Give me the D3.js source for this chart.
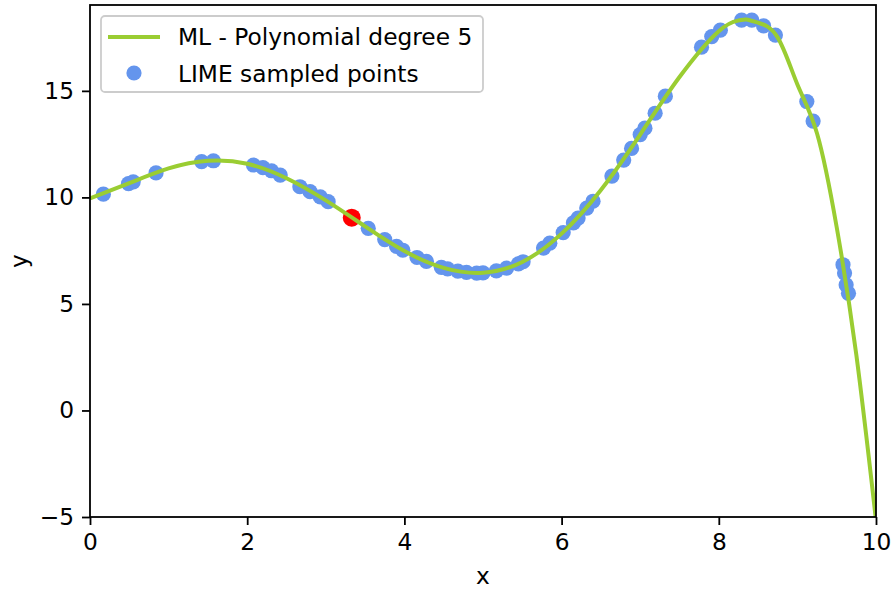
<!DOCTYPE html>
<html>
<head>
<meta charset="utf-8">
<script src="https://cdn.jsdelivr.net/npm/d3@7"></script>
<style>
  html, body { margin: 0; padding: 0; background: #fff; }
  svg { display: block; font-family: "DejaVu Sans", sans-serif; }
</style>
</head>
<body>
<svg id="chart" width="893" height="589"></svg>
<script>
// ---- data ----
const curveX = [0, 0.5, 1, 1.5, 2, 2.5, 3, 3.5, 4, 4.5, 5, 5.5, 6, 6.5, 7, 7.5, 8, 8.25, 8.35, 8.5, 8.75, 9, 9.25, 9.5, 9.75, 10];
const curveY = [9.95, 10.67, 11.36, 11.72, 11.58, 10.9, 9.86, 8.64, 7.48, 6.69, 6.46, 6.97, 8.3, 10.35, 12.95, 15.65, 17.8, 18.3, 18.35, 18.2, 17.5, 15.3, 13.0, 8.6, 2.6, -5.16];

const sampleX = [0.17, 0.49, 0.55, 0.84, 1.42, 1.57, 2.08, 2.2, 2.31, 2.42, 2.67, 2.8, 2.93, 3.03,
  3.54, 3.75, 3.9, 3.98, 4.16, 4.28, 4.47, 4.55, 4.68, 4.79, 4.92, 5.0, 5.17, 5.3, 5.45, 5.51,
  5.77, 5.85, 6.02, 6.15, 6.21, 6.32, 6.4, 6.64, 6.79, 6.89, 7.0, 7.06, 7.19, 7.32,
  7.78, 7.91, 8.02, 8.29, 8.42, 8.57, 8.72, 9.12, 9.2, 9.58, 9.6, 9.62, 9.65];
const sampleY = [10.15, 10.65, 10.73, 11.15, 11.68, 11.72, 11.52, 11.4, 11.25, 11.05, 10.5, 10.27, 10.02, 9.8,
  8.55, 8.02, 7.7, 7.52, 7.18, 7.0, 6.72, 6.65, 6.54, 6.48, 6.45, 6.46, 6.55, 6.68, 6.88, 6.98,
  7.62, 7.85, 8.35, 8.8, 9.03, 9.5, 9.82, 11.0, 11.75, 12.3, 12.95, 13.25, 13.95, 14.75,
  17.05, 17.55, 17.85, 18.32, 18.32, 18.05, 17.62, 14.5, 13.58, 6.84, 6.45, 5.9, 5.5];

const instanceX = [3.33];
const instanceY = [9.05];

const xTicks = [0, 2, 4, 6, 8, 10];
const yTicks = [-5, 0, 5, 10, 15];
const legendLabels = ["ML - Polynomial degree 5", "LIME sampled points"];

// ---- layout ----
const svg = d3.select("#chart");
const L = 90, R = 876, T = 5, B = 517;
const FS = 23.3;
const x = d3.scaleLinear().domain([0, 10]).range([L, R]);
const y = d3.scaleLinear().domain([-5, 19.03]).range([B, T]);

svg.append("defs").append("clipPath").attr("id", "plotclip")
  .append("rect").attr("x", L).attr("y", T).attr("width", R - L).attr("height", B - T);

const plot = svg.append("g").attr("clip-path", "url(#plotclip)");

// scatter (under the line)
const samples = sampleX.map((v, i) => ({x: v, y: sampleY[i]}));
plot.append("g").selectAll("circle").data(samples).join("circle")
  .attr("cx", d => x(d.x)).attr("cy", d => y(d.y)).attr("r", 7.6)
  .attr("fill", "#6495ED");

const inst = instanceX.map((v, i) => ({x: v, y: instanceY[i]}));
plot.append("g").selectAll("circle").data(inst).join("circle")
  .attr("cx", d => x(d.x)).attr("cy", d => y(d.y)).attr("r", 9)
  .attr("fill", "#FF0000");

// model curve
const curvePts = curveX.map((v, i) => [v, curveY[i]]);
plot.append("path").datum(curvePts)
  .attr("d", d3.line().x(d => x(d[0])).y(d => y(d[1])).curve(d3.curveNatural))
  .attr("fill", "none").attr("stroke", "#9ACD32").attr("stroke-width", 4)
  .attr("stroke-linejoin", "round");

// axes
const xAxis = d3.axisBottom(x).tickValues(xTicks).tickFormat(d3.format("d"))
  .tickSizeInner(8).tickSizeOuter(0).tickPadding(8);
const yAxis = d3.axisLeft(y).tickValues(yTicks).tickFormat(d => d < 0 ? "\u2212" + Math.abs(d) : d)
  .tickSizeInner(8).tickSizeOuter(0).tickPadding(8);

const gx = svg.append("g").attr("transform", `translate(0,${B})`).call(xAxis);
const gy = svg.append("g").attr("transform", `translate(${L},0)`).call(yAxis);
[gx, gy].forEach(g => {
  g.select(".domain").remove();
  g.selectAll(".tick line").attr("stroke", "#000").attr("stroke-width", 1.8);
  g.selectAll(".tick text").attr("fill", "#000").style("font-size", FS + "px")
    .style("font-family", "DejaVu Sans");
});

// spines
svg.append("rect").attr("x", L).attr("y", T).attr("width", R - L).attr("height", B - T)
  .attr("fill", "none").attr("stroke", "#000").attr("stroke-width", 1.8);

// axis labels
svg.append("text").attr("x", (L + R) / 2).attr("y", 584).attr("text-anchor", "middle")
  .style("font-size", FS + "px").text("x");
svg.append("text").attr("transform", `translate(27,${(T + B) / 2}) rotate(-90)`)
  .attr("text-anchor", "middle").style("font-size", FS + "px").text("y");

// legend
const lg = svg.append("g");
lg.append("rect").attr("x", 101).attr("y", 16).attr("width", 382).attr("height", 76)
  .attr("rx", 4).attr("fill", "#fff").attr("fill-opacity", 0.8)
  .attr("stroke", "#cccccc").attr("stroke-width", 1.8);
lg.append("line").attr("x1", 108).attr("x2", 160).attr("y1", 37).attr("y2", 37)
  .attr("stroke", "#9ACD32").attr("stroke-width", 4);
lg.append("circle").attr("cx", 134).attr("cy", 73).attr("r", 7.6).attr("fill", "#6495ED");
lg.selectAll("text.lab").data(legendLabels).join("text").attr("class", "lab")
  .attr("x", 178).attr("y", (d, i) => 37 + i * 36.5).attr("dy", "0.35em")
  .style("font-size", FS + "px").attr("fill", "#000").text(d => d);
</script>
</body>
</html>
